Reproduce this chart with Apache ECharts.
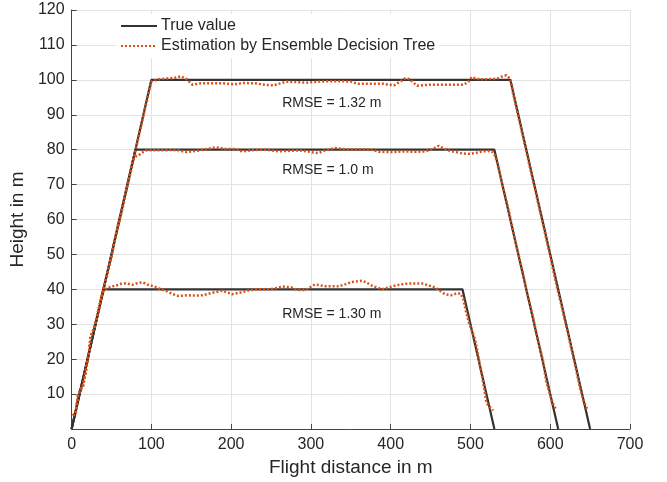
<!DOCTYPE html>
<html><head><meta charset="utf-8">
<script src="https://cdn.jsdelivr.net/npm/echarts@6/dist/echarts.min.js"></script>
<style>html,body{margin:0;padding:0;background:#fff}#c{width:667px;height:482px}</style>
</head><body><div id="c"></div>
<script>
// ---- data ----
const xTickValues = [0,100,200,300,400,500,600,700];
const yTickValues = [10,20,30,40,50,60,70,80,90,100,110,120];

const true40  = [[0,0],[40,40],[490,40],[530,0]];
const true80  = [[0,0],[80,80],[530,80],[610,0]];
const true100 = [[0,0],[100,100],[550,100],[650,0]];

const rampEst = [[1.5,3.9],[5,4.5],[8,9.5],[11,11.3],[14,12],[17,15.5],[20,19.5],[22,22.5],[24,26.5],[28,28.8],[32,32.5],[36,36.3]];

const est40 = [[40,39.5],[43,40.2],[50,40.8],[56,41.1],[62,41.6],[68,41.7],[76,41.3],[83,41.8],[89,42],[96,41.3],[105,40.7],[112,40],[118,39.6],[126,38.7],[134,38.1],[146,38.3],[156,38.2],[164,38.3],[176,39],[189,39.6],[195,39.1],[201,38.6],[214,39.2],[222,39.7],[231,40],[247,40],[258,40.4],[264,40.8],[276,40.5],[283,39.8],[293,39.8],[305,41.4],[318,40.9],[335,40.9],[344,41.5],[351,42.1],[358,42.3],[364,42.5],[370,41.9],[376,41.1],[389,40],[397,40.5],[406,41.1],[418,41.6],[426,41.7],[439,41.7],[448,41.1],[456,40.5],[462,39.5],[468,38.6],[476,38.3],[484,38.9],[488,38.7],[491,37.2],[494,34],[498,30.5],[503,27.5],[506,25.5],[509,22],[512,18],[515,14.5],[518,10.5],[520,7.5],[523,6.6],[528.5,5.3]];

const est80 = [[40,40.3],[45,44.6],[50,49.2],[55,55.4],[60,59.5],[65,64.3],[70,69.6],[75,74.5],[78,77.4],[80.6,78.1],[84,78.3],[87,79],[94,79.8],[110,79.8],[125,79.9],[135,79.8],[143,79.3],[150,79.5],[160,79.8],[172,80.3],[180.6,80.7],[193,80.2],[205,80.2],[214,79.5],[225,79.8],[235,80],[243,80],[259,79.5],[275,79.7],[285,79.8],[295,79.5],[303,79.2],[309,79],[318,79.8],[330.6,80.5],[347,80],[362,80.1],[376,80],[385,79.4],[400,79.3],[415,79.5],[430,79.4],[443,79.5],[450,80],[456,80.6],[460,81.1],[465,80.5],[472,79.8],[480,79.4],[490,78.9],[498,78.8],[505,79],[515,79.5],[522,79.6],[527,79.5],[531,78.2],[535,75],[541,69],[548,62.5],[556,54],[564,46.5],[571,39],[578,32.5],[585,25],[591,19.5],[595,13.5],[599,10.5],[603,7.5],[607.7,5.3]];

const est100 = [[40,40.3],[46,45.6],[52,51.8],[58,58.3],[64,63.6],[70,70.2],[76,75.6],[82,81.6],[88,87.5],[92,91.8],[96,95.5],[100,99.5],[104,99.8],[110,100.2],[120,100.4],[130,100.6],[137,101],[143,100.4],[151.5,98.6],[162,99],[175,99],[190,99],[204,98.7],[215,99.1],[230,99],[242,98.6],[253,98.4],[262,99],[270,99.5],[285,99.3],[295,99.2],[310,99.5],[325,99.6],[340,99.6],[350,99.5],[358,98.9],[375,98.9],[390,98.9],[404,98.4],[412,99.5],[417,100.3],[421,100.5],[427,99.5],[433,98.3],[449,98.6],[465,98.6],[480,98.6],[491,98.6],[497,99.3],[501.5,100.8],[507,100.3],[512,100.2],[522,100.2],[533,100.3],[540,101],[545,101.3],[550,100.3],[553,96.5],[560,89.5],[568,81.5],[576,73.5],[584,65.5],[592,57.5],[600,49.5],[608,41],[616,33.5],[624,25.5],[631,18.5],[637,12],[642,8],[647,5.3]];

const rmseLabels = [[264,93.3,'RMSE = 1.32 m'],[264,74.0,'RMSE = 1.0 m'],[264,32.8,'RMSE = 1.30 m']];

const TRUE_NAME = 'True value';
const EST_NAME = 'Estimation by Ensemble Decision Tree';

// ---- chart ----
const FONT = '"Liberation Sans", Arial, Helvetica, sans-serif';
const chart = echarts.init(document.getElementById('c'), null, {renderer:'canvas'});
const trueStyle = {color:'#333333', width:2.2, type:'solid'};
const estStyle = {color:'#D95319', width:2.5, type:[2,2]};
function trueSeries(d){return {name:TRUE_NAME,type:'line',data:d,symbol:'none',lineStyle:trueStyle,itemStyle:{color:'#333333'},z:2,animation:false};}
function estSeries(d){return {name:EST_NAME,type:'line',data:rampEst.concat(d),symbol:'none',lineStyle:estStyle,itemStyle:{color:'#D95319'},z:3,animation:false};}

chart.setOption({
  animation:false,
  backgroundColor:'#fff',
  textStyle:{fontFamily:FONT},
  grid:{left:70,right:37,top:10,bottom:50,containLabel:false},
  legend:{
    data:[TRUE_NAME,EST_NAME],
    orient:'vertical', left:116, top:14, padding:4,
    itemWidth:36, itemHeight:14, itemGap:4,
    backgroundColor:'#ffffff',
    itemStyle:{opacity:0},
    textStyle:{fontSize:16,color:'#262626',fontFamily:FONT,padding:[0,0,0,-1]},
    selectedMode:false
  },
  xAxis:{
    type:'value', min:0, max:700, interval:100,
    name:'Flight distance in m', nameLocation:'middle', nameGap:29,
    nameTextStyle:{fontSize:19,color:'#262626',fontFamily:FONT},
    axisLine:{show:true,onZero:false,lineStyle:{color:'#444444',width:1}},
    axisTick:{show:true,inside:true,length:5,lineStyle:{color:'#444444'}},
    axisLabel:{fontSize:16,color:'#262626',margin:8,fontFamily:FONT},
    splitLine:{show:true,lineStyle:{color:'#e3e3e3',width:1}}
  },
  yAxis:{
    type:'value', min:0, max:120, interval:10,
    name:'Height in m', nameLocation:'middle', nameGap:36,
    nameTextStyle:{fontSize:19,color:'#262626',fontFamily:FONT},
    axisLine:{show:true,onZero:false,lineStyle:{color:'#444444',width:1}},
    axisTick:{show:true,inside:true,length:5,lineStyle:{color:'#444444'}},
    axisLabel:{fontSize:16,color:'#262626',margin:7,fontFamily:FONT,
      formatter:function(v){return yTickValues.indexOf(v)>=0 ? String(v) : '';}},
    splitLine:{show:true,lineStyle:{color:'#e3e3e3',width:1}}
  },
  series:[
    trueSeries(true40), trueSeries(true80), trueSeries(true100),
    estSeries(est40), estSeries(est80), estSeries(est100)
  ]
});

const g = rmseLabels.map(function(r){
  const p = chart.convertToPixel({gridIndex:0},[r[0],r[1]]);
  return {type:'text',x:p[0],y:p[1],z:10,style:{text:r[2],fontSize:14,fill:'#262626',font:'14px '+FONT,textAlign:'left',textVerticalAlign:'middle'}};
});
chart.setOption({graphic:g});
</script>
</body></html>
